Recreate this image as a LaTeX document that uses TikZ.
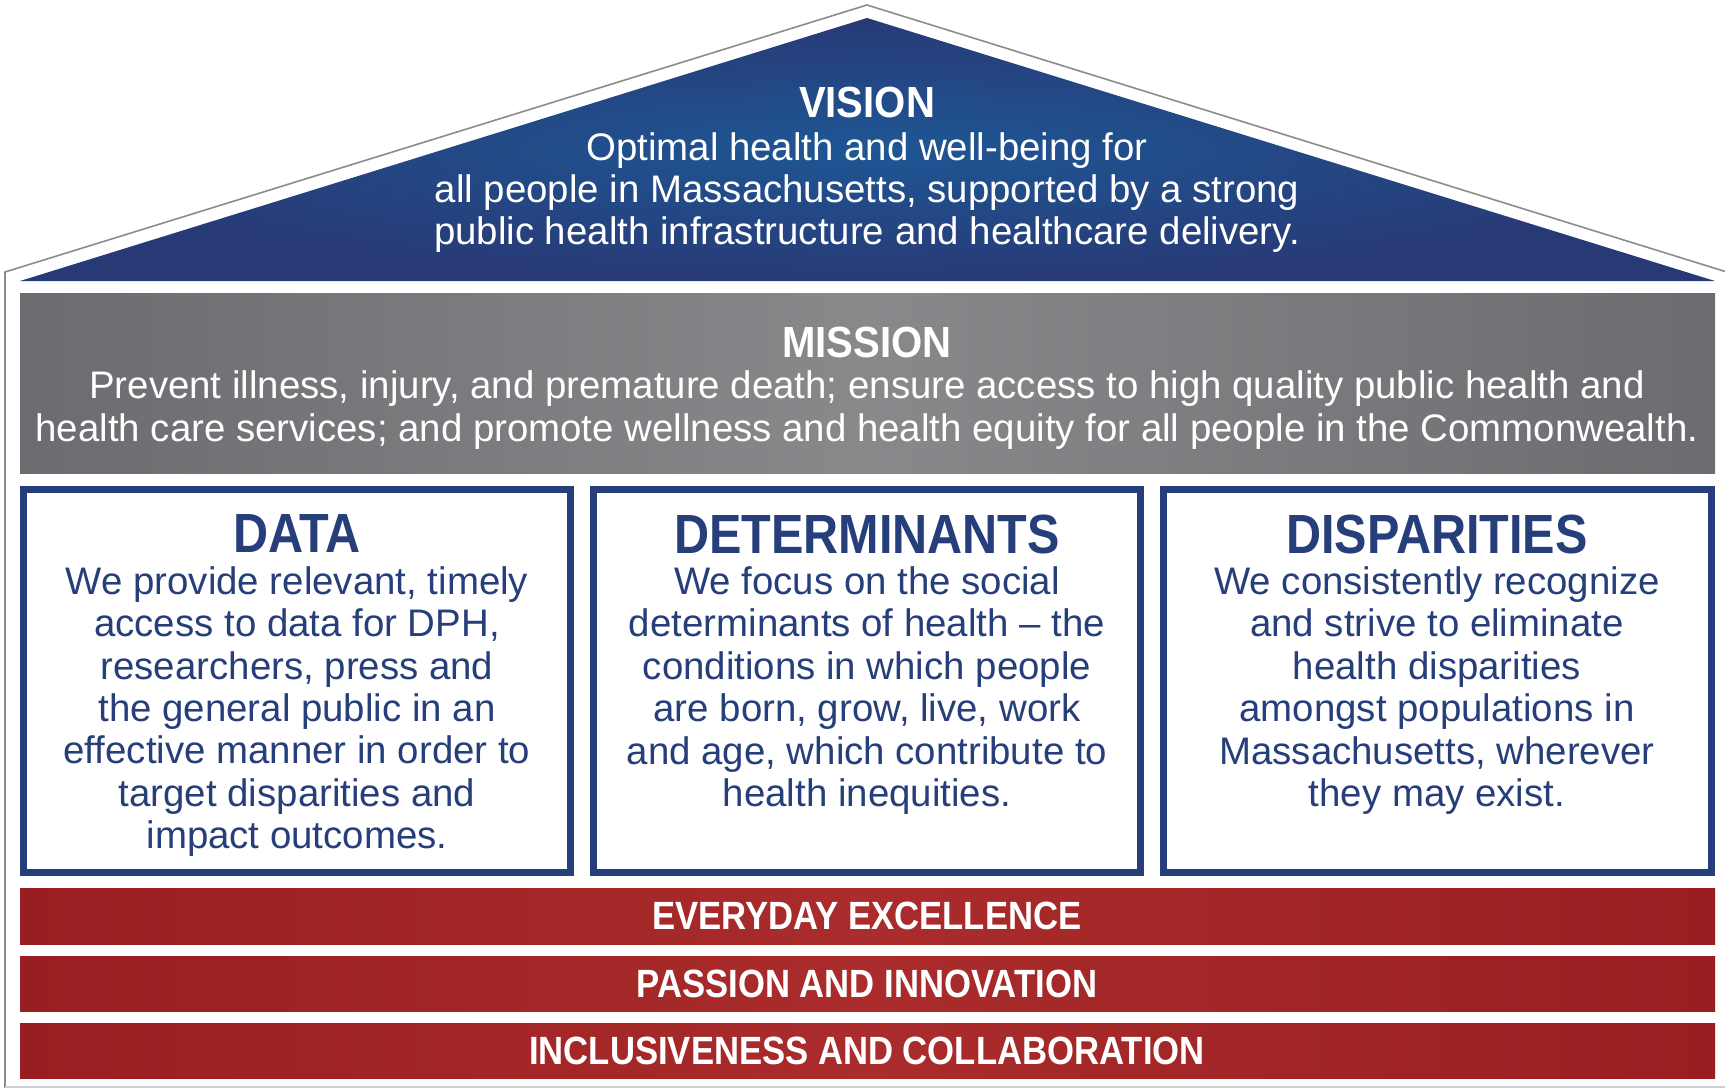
\documentclass[tikz,border=0pt]{standalone}
\usepackage{fontspec}
\setmainfont{Liberation Sans}
\newfontfamily\titlefont[FakeStretch=0.88]{Liberation Sans Bold}
\newfontfamily\toptitlefont[FakeStretch=0.92]{Liberation Sans Bold}
\definecolor{dphblue}{RGB}{38,62,122}
\definecolor{roofin}{RGB}{30,86,148}
\definecolor{roofout}{RGB}{40,58,118}
\definecolor{grayout}{RGB}{107,108,111}
\definecolor{grayin}{RGB}{136,137,139}
\definecolor{redout}{RGB}{152,30,33}
\definecolor{redin}{RGB}{170,44,44}
\definecolor{outline}{RGB}{140,140,140}
\tikzset{
  bodytext/.style={font=\fontsize{19.2}{21.2}\selectfont, align=center, inner sep=0pt},
  whitebody/.style={bodytext, text=white},
  bluebody/.style={bodytext, text=dphblue},
  toptitle/.style={font=\toptitlefont\fontsize{21.8}{24}\selectfont, text=white, inner sep=0pt},
  boxtitle/.style={font=\titlefont\fontsize{27.6}{30}\selectfont, text=dphblue, inner sep=0pt},
  bartitle/.style={font=\titlefont\fontsize{19.7}{22}\selectfont, text=white, inner sep=0pt},
  pillar/.style={draw=dphblue, line width=3.5pt, fill=white},
  valuebar/.style={left color=redout, right color=redout, middle color=redin},
}
\begin{document}
\begin{tikzpicture}[x=0.5pt,y=-0.5pt]
\useasboundingbox (0,0) rectangle (1725,1088);
\fill[white] (0,0) rectangle (1725,1088);
% outline of the house
\draw[outline, line width=0.8pt] (5,1088) -- (5,272) -- (867,5) -- (1730,273);
\draw[black!18, line width=0.8pt] (5,1087) -- (1725,1087);
% roof
\shade[inner color=roofin, outer color=roofout] (20,281) -- (867,18) -- (1715,281) -- cycle;
\node[toptitle] (vt) at (867,102) {VISION};
\node[whitebody] (vb) at (867,192.5) {Optimal health and well-being for\\all people in Massachusetts, supported by a strong\\public health infrastructure and healthcare delivery.};
% mission
\shade[left color=grayout, right color=grayout, middle color=grayin] (20,293) rectangle (1715,473);
\node[toptitle] (mt) at (867,342) {MISSION};
\node[whitebody] (mb) at (867,410) {Prevent illness, injury, and premature death; ensure access to high quality public health and\\health care services; and promote wellness and health equity for all people in the Commonwealth.};
% pillars
\draw[pillar] (23.5,489.5) rectangle (570.5,872.5);
\draw[pillar] (593.5,489.5) rectangle (1140.5,872.5);
\draw[pillar] (1163.5,489.5) rectangle (1711.5,872.5);
\node[boxtitle] (dt) at (297,534) {DATA};
\node[bluebody] (db) at (297,711.5) {We provide relevant, timely\\access to data for DPH,\\researchers, press and\\the general public in an\\effective manner in order to\\target disparities and\\impact outcomes.};
\node[boxtitle] (et) at (867,534) {DETERMINANTS};
\node[bluebody] (eb) at (867,690.5) {We focus on the social\\determinants of health -- the\\conditions in which people\\are born, grow, live, work\\and age, which contribute to\\health inequities.};
\node[boxtitle] (st) at (1437,534) {DISPARITIES};
\node[bluebody] (sb) at (1437,690.5) {We consistently recognize\\and strive to eliminate\\health disparities\\amongst populations in\\Massachusetts, wherever\\they may exist.};
% values
\shade[valuebar] (20,888) rectangle (1715,944);
\shade[valuebar] (20,956) rectangle (1715,1011);
\shade[valuebar] (20,1023) rectangle (1715,1078);
\node[bartitle] (v1) at (867,916) {EVERYDAY EXCELLENCE};
\node[bartitle] (v2) at (867,983.5) {PASSION AND INNOVATION};
\node[bartitle] (v3) at (867,1050.5) {INCLUSIVENESS AND COLLABORATION};
\end{tikzpicture}
\end{document}
